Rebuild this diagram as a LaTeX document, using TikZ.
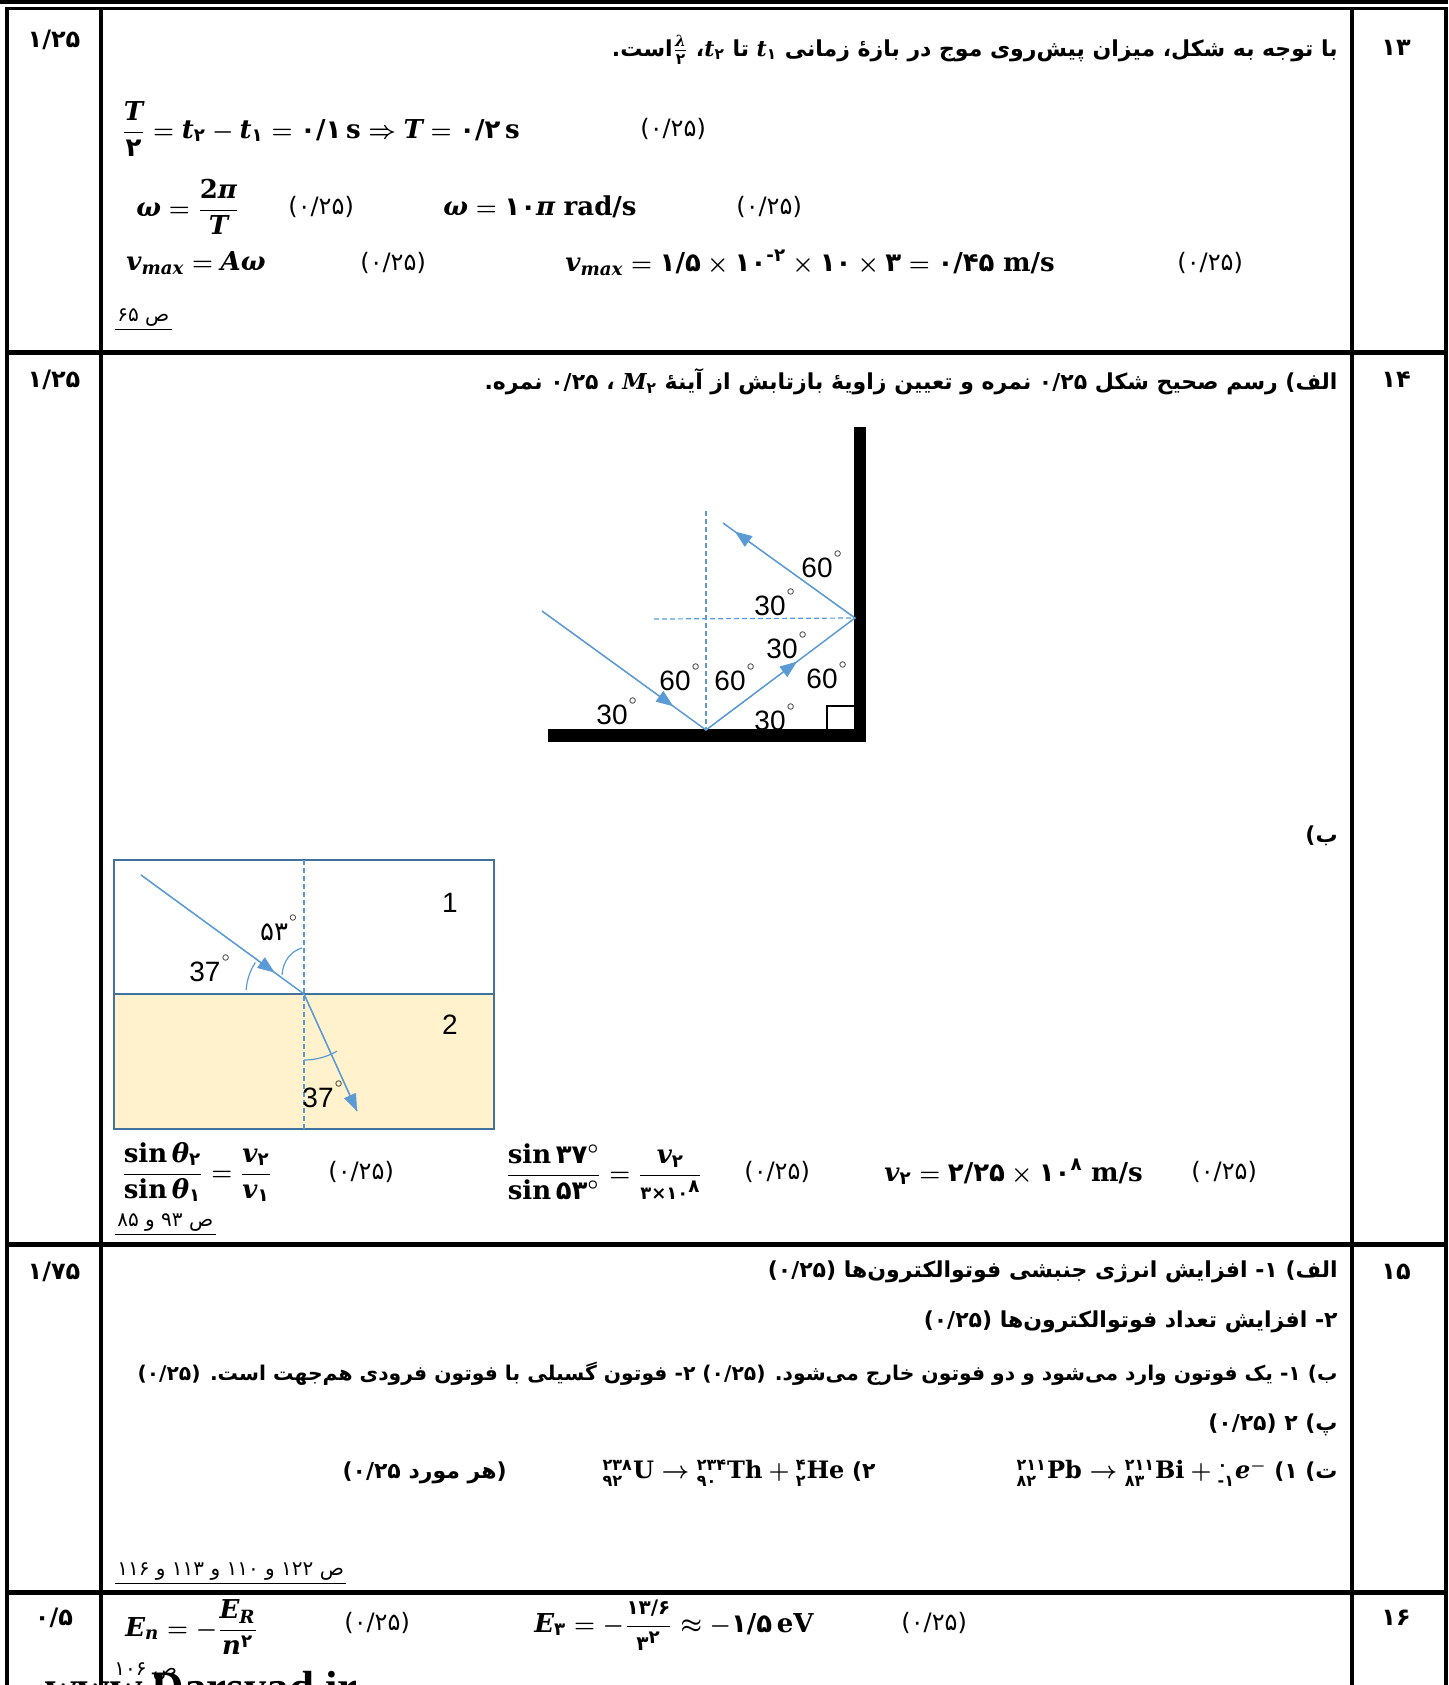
\documentclass[tikz,border=0pt]{standalone}
\usepackage{amsmath}
\usepackage{fontspec}
\TeXXeTstate=1
\newfontfamily\fa[Script=Arabic]{DejaVu Sans}
\newfontfamily\pd{DejaVu Sans}
\newfontfamily\dsf{DejaVu Serif}
\newfontfamily\ar{Liberation Sans}
\newfontfamily\wm{Liberation Serif}
\usetikzlibrary{arrows.meta,calc}
\definecolor{rayblue}{HTML}{5B9BD5}
\definecolor{boxblue}{HTML}{41719C}
\definecolor{fillyel}{HTML}{FFF2CC}
\newcommand\pn[1]{\text{\pd\bfseries #1}}
\newcommand\pns[1]{\text{\pd\bfseries\fontsize{10}{12}\selectfont #1}}
\newcommand\mb[1]{\text{\dsf\bfseries #1}}
\newcommand\mi[1]{\text{\dsf\bfseries\itshape #1}}
\newcommand\dg{\rlap{\hspace{0.5pt}\raisebox{0.72em}{\fontsize{7}{7}\selectfont$\circ$}}}
\tikzset{
  fa/.style={font=\fa\bfseries\boldmath\fontsize{11}{13}\selectfont, inner sep=0pt},
  num/.style={font=\pd\bfseries\fontsize{12}{14}\selectfont, inner sep=0pt},
  mth/.style={font=\fontsize{13}{15}\selectfont\boldmath, inner sep=0pt},
  sc/.style={font=\pd\fontsize{12}{14}\selectfont, inner sep=0pt},
  refer/.style={font=\fa\fontsize{10}{12}\selectfont, inner sep=1pt},
  lbl/.style={font=\ar\fontsize{14}{14}\selectfont, inner sep=0pt},
  ray/.style={draw=rayblue, line width=0.75pt},
  nrm/.style={draw=rayblue, line width=0.6pt, dash pattern=on 2.5pt off 1.5pt},
  arcst/.style={draw=rayblue, line width=0.6pt},
  tipa/.style={-{Triangle[length=8.5pt,width=6.5pt]}, rayblue},
  uline/.style={line width=0.7pt}
}
\begin{document}
\begin{tikzpicture}[x=0.5pt,y=-0.5pt]
\useasboundingbox (0,0) rectangle (1448,1685);
% ---------- table rules ----------
\fill (0,0) rectangle (1448,4.5);
\fill (5,7) rectangle (1448,10.5);
\fill (5,7) rectangle (8.5,1685);
\fill (99,7) rectangle (102.5,1685);
\fill (1350,7) rectangle (1354,1685);
\fill (1444,7) rectangle (1448,1685);
\fill (5,349.5) rectangle (1448,354.5);
\fill (5,1242) rectangle (1448,1247);
\fill (5,1589.5) rectangle (1448,1594.5);

% ---------- row 13 ----------
\node[num] (s13) at (54,40) {۱/۲۵};
\node[num] (q13) at (1396,48) {۱۳};
\node[fa,anchor=east] (h13) at (1338,50) {\beginR با توجه به شکل، میزان پیش‌روی موج در بازهٔ زمانی \beginL$\mi{t}_{\pn{۱}}$\endL{} تا \beginL$\mi{t}_{\pn{۲}}$\endL، \beginL$\frac{\mi{λ}}{\pn{۲}}$\endL است.\endR};
\node[mth,anchor=west] (e1) at (121,129) {$\dfrac{\mi{T}}{\pn{۲}} = \mi{t}_{\pn{۲}} - \mi{t}_{\pn{۱}} = \pn{۰/۱}\,\mb{s} \Rightarrow \mi{T} = \pn{۰/۲}\,\mb{s}$};
\node[sc,anchor=west] (c1) at (640,129) {(۰/۲۵)};
\node[mth,anchor=west] (e2) at (136,207) {$\mi{ω} = \dfrac{\mb{2}\mi{π}}{\mi{T}}$};
\node[sc,anchor=west] (c2) at (288,207) {(۰/۲۵)};
\node[mth,anchor=west] (e3) at (443,207) {$\mi{ω} = \pn{۱۰}\mi{π}\ \mb{rad/s}$};
\node[sc,anchor=west] (c3) at (736,207) {(۰/۲۵)};
\node[mth,anchor=west] (e4) at (126,263) {$\mi{v}_{\mi{max}} = \mi{Aω}$};
\node[sc,anchor=west] (c4) at (360,263) {(۰/۲۵)};
\node[mth,anchor=west] (e5) at (565,263) {$\mi{v}_{\mi{max}} = \pn{۱/۵} \times \pn{۱۰}^{\pn{-۲}} \times \pn{۱۰} \times \pn{۳} = \pn{۰/۴۵}\ \mb{m/s}$};
\node[sc,anchor=west] (c5) at (1177,263) {(۰/۲۵)};
\node[refer,anchor=west] (r13) at (115,318) {\beginR ص ۶۵\endR};
\draw[uline] (r13.south west) -- (r13.south east);

% ---------- row 14 ----------
\node[num] (s14) at (54,380) {۱/۲۵};
\node[num] (q14) at (1396,380) {۱۴};
\node[fa,anchor=east] (h14) at (1338,382) {\beginR الف) رسم صحیح شکل ۰/۲۵ نمره و تعیین زاویهٔ بازتابش از آینهٔ \beginL$\mi{M}_{\pn{۲}}$\endL{} ، ۰/۲۵ نمره.\endR};
\node[fa,anchor=east] (b14) at (1338,836) {\beginR ب)\endR};

% mirror diagram
\fill (854,427) rectangle (866,742);
\fill (548,729) rectangle (866,742);
\draw[line width=1pt] (827,729) |- (854,706);
\coordinate (P0) at (542,611);
\coordinate (P1) at (706,730);
\coordinate (P2) at (855,618);
\coordinate (P3) at (723,523);
\coordinate (N1) at (706,511);
\coordinate (N2) at (654,619);
\draw[nrm] (N1) -- (P1);
\draw[nrm] (N2) -- (P2);
\draw[ray] (P0) -- (P1) -- (P2) -- (P3);
\draw[tipa] (P0) -- ($(P0)!0.80!(P1)$);
\draw[tipa] (P1) -- ($(P1)!0.61!(P2)$);
\draw[tipa] (P2) -- ($(P2)!0.91!(P3)$);
\node[lbl] (a1) at (817,564) {60\dg};
\node[lbl] (a2) at (770,602) {30\dg};
\node[lbl] (a3) at (782,645) {30\dg};
\node[lbl] (a4) at (822,675) {60\dg};
\node[lbl] (a5) at (730,677) {60\dg};
\node[lbl] (a6) at (675,677) {60\dg};
\node[lbl] (a7) at (612,711) {30\dg};
\node[lbl] (a8) at (770,717) {30\dg};

% refraction diagram
\fill[fillyel] (114,994) rectangle (494,1129);
\draw[boxblue, line width=1.3pt] (114,860) rectangle (494,1129);
\draw[boxblue, line width=1.3pt] (114,994) -- (494,994);
\coordinate (Q0) at (141,875);
\coordinate (Q1) at (304,994);
\coordinate (Q2) at (357,1111);
\coordinate (NT) at (304,860);
\coordinate (NB) at (304,1129);
\draw[nrm] (NT) -- (NB);
\draw[ray] (Q0) -- (Q1) -- (Q2);
\draw[tipa] (Q0) -- ($(Q0)!0.82!(Q1)$);
\draw[tipa] (Q1) -- (Q2);
\draw[arcst] (Q1) ++(-176:58) arc[start angle=-176,end angle=-147,radius=58];
\draw[arcst] (Q1) ++(90:66) arc[start angle=90,end angle=60,radius=66];
\draw[arcst] (282,975) .. controls (283,961) and (291,951) .. (302,948);
\node[lbl] (m1l) at (450,903) {1};
\node[lbl] (m2l) at (450,1025) {2};
\node[lbl] (b1) at (205,968) {37\dg};
\node[lbl,font=\pd\fontsize{13}{13}\selectfont] (b2) at (274,928) {۵۳\dg};
\node[lbl] (b3) at (318,1094) {37\dg};

\node[mth,anchor=west] (f1) at (121,1172) {$\dfrac{\mb{sin}\,\mi{θ}_{\pn{۲}}}{\mb{sin}\,\mi{θ}_{\pn{۱}}} = \dfrac{\mi{v}_{\pn{۲}}}{\mi{v}_{\pn{۱}}}$};
\node[sc,anchor=west] (g1) at (328,1172) {(۰/۲۵)};
\node[mth,anchor=west] (f2) at (505,1172) {$\dfrac{\mb{sin}\,\pn{۳۷}^{\circ}}{\mb{sin}\,\pn{۵۳}^{\circ}} = \dfrac{\mi{v}_{\pn{۲}}}{\text{\pd\bfseries\small ۳×۱۰}^{\pn{۸}}}$};
\node[sc,anchor=west] (g2) at (744,1172) {(۰/۲۵)};
\node[mth,anchor=west] (f3) at (884,1172) {$\mi{v}_{\pn{۲}} = \pn{۲/۲۵} \times \pn{۱۰}^{\pn{۸}}\ \mb{m/s}$};
\node[sc,anchor=west] (g3) at (1191,1172) {(۰/۲۵)};
\node[refer,anchor=west] (r14) at (115,1223) {\beginR ص ۹۳ و ۸۵\endR};
\draw[uline] (r14.south west) -- (r14.south east);

% ---------- row 15 ----------
\node[num] (s15) at (54,1272) {۱/۷۵};
\node[num] (q15) at (1396,1272) {۱۵};
\node[fa,anchor=east] (l1) at (1338,1272) {\beginR الف) ۱- افزایش انرژی جنبشی فوتوالکترون‌ها (۰/۲۵)\endR};
\node[fa,anchor=east] (l2) at (1338,1322) {\beginR ۲- افزایش تعداد فوتوالکترون‌ها (۰/۲۵)\endR};
\node[fa,anchor=east] (l3) at (1338,1374) {\resizebox{600pt}{!}{\beginR ب) ۱- یک فوتون وارد می‌شود و دو فوتون خارج می‌شود. (۰/۲۵) ۲- فوتون گسیلی با فوتون فرودی هم‌جهت است. (۰/۲۵)\endR}};
\node[fa,anchor=east] (l4) at (1338,1425) {\beginR پ) ۲ (۰/۲۵)\endR};
\node[fa,anchor=east] (l5a) at (1338,1473) {\beginR ت) ۱) \beginL{\fontsize{12}{14}\selectfont${}^{\pn{۲۱۱}}_{\pn{۸۲}}\mb{Pb} \rightarrow {}^{\pn{۲۱۱}}_{\pn{۸۳}}\mb{Bi} + {}^{\pn{۰}}_{\pn{-۱}}\mi{e}^{-}$}\endL\endR};
\node[fa,anchor=east] (l5b) at (876,1473) {\beginR ۲) \beginL{\fontsize{12}{14}\selectfont${}^{\pn{۲۳۸}}_{\pn{۹۲}}\mb{U} \rightarrow {}^{\pn{۲۳۴}}_{\pn{۹۰}}\mb{Th} + {}^{\pn{۴}}_{\pn{۲}}\mb{He}$}\endL\endR};
\node[fa,anchor=east] (l5c) at (507,1473) {\beginR (هر مورد ۰/۲۵)\endR};
\node[refer,anchor=west] (r15) at (115,1572) {\beginR ص ۱۲۲ و ۱۱۰ و ۱۱۳ و ۱۱۶\endR};
\draw[uline] (r15.south west) -- (r15.south east);

% ---------- row 16 ----------
\node[num] (s16) at (54,1618) {۰/۵};
\node[num] (q16) at (1396,1618) {۱۶};
\node[mth,anchor=west] (m1) at (125,1627) {$\mi{E}_{\mi{n}} = -\dfrac{\mi{E}_{\mi{R}}}{\mi{n}^{\pn{۲}}}$};
\node[sc,anchor=west] (k1) at (344,1623) {(۰/۲۵)};
\node[mth,anchor=west] (m2) at (534,1625) {$\mi{E}_{\pn{۳}} = -\dfrac{\pns{۱۳/۶}}{\pns{۳}^{\pn{۲}}} \approx -\pn{۱/۵}\,\mb{eV}$};
\node[sc,anchor=west] (k2) at (901,1623) {(۰/۲۵)};
\node[refer,anchor=west] (r16) at (112,1672) {\beginR ص ۱۰۶\endR};
\node[font=\wm\bfseries\fontsize{22.5}{24}\selectfont, anchor=base west, inner sep=0pt] (wmk) at (45,1702) {www.Darsyad.ir};
\end{tikzpicture}
\end{document}
